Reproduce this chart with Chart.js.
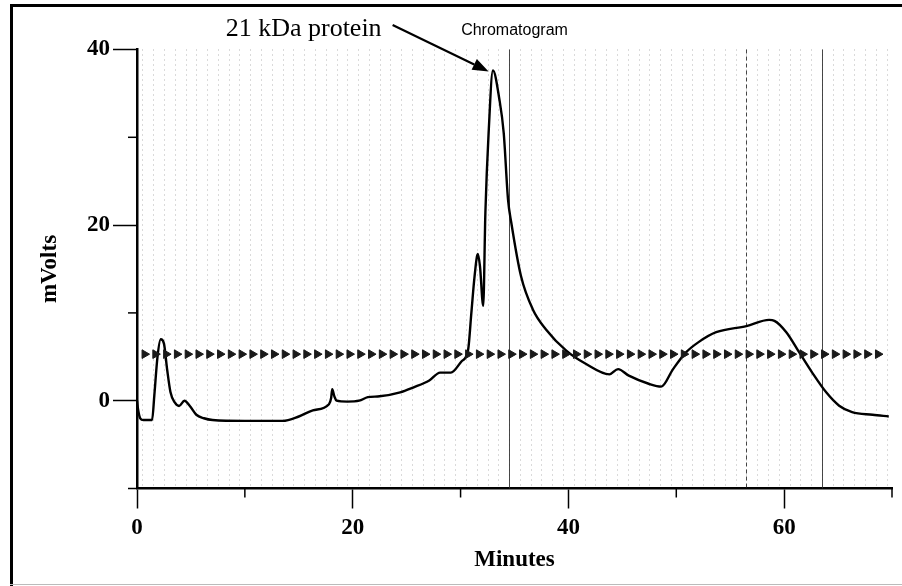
<!DOCTYPE html>
<html>
<head>
<meta charset="utf-8">
<script src="https://cdn.jsdelivr.net/npm/chart.js@4.4.1/dist/chart.umd.min.js"></script>
<style>
  html, body { margin: 0; padding: 0; background: #fff; }
  #wrap { width: 902px; height: 586px; }
</style>
</head>
<body>
<div id="wrap"><canvas id="c" width="902" height="586"></canvas></div>
<script>
// ---- data ----
const traceMinutes = [0.0, 0.1, 0.3, 0.6, 1.4, 1.6, 1.9, 2.2, 2.5, 2.8, 3.1, 3.5, 3.9, 4.4, 4.9, 5.5, 6.2, 7.0, 10.0, 13.5, 15.0, 16.3, 17.8, 18.0, 18.1, 18.3, 18.5, 19.5, 20.6, 21.4, 22.5, 24.4, 25.6, 27.1, 28.1, 29.1, 30.1, 30.7, 31.0, 31.3, 31.6, 31.8, 32.1, 32.3, 32.6, 33.0, 33.6, 34.0, 34.4, 34.7, 35.6, 36.7, 37.9, 39.8, 41.6, 43.8, 44.6, 45.6, 47.5, 48.6, 49.7, 50.9, 52.1, 53.7, 56.5, 58.6, 59.1, 60.2, 61.4, 62.6, 63.9, 65.1, 66.3, 68.2, 69.7];
const traceMilliVolts = [0.0, -1.0, -2.0, -2.2, -2.2, 0.5, 5.0, 7.0, 6.5, 3.5, 1.0, -0.2, -0.6, 0.0, -0.6, -1.6, -2.0, -2.2, -2.3, -2.3, -1.8, -1.1, -0.4, 0.3, 1.3, 0.5, 0.0, -0.1, 0.0, 0.4, 0.5, 0.95, 1.5, 2.3, 3.2, 3.2, 4.5, 5.8, 10.0, 14.2, 16.7, 15.3, 10.8, 21.4, 30.5, 37.6, 34.3, 30.5, 22.9, 20.3, 14.2, 10.4, 8.15, 5.7, 4.2, 3.0, 3.6, 2.85, 1.9, 1.6, 3.6, 5.5, 6.7, 7.8, 8.5, 9.2, 9.1, 7.8, 5.5, 3.2, 0.95, -0.57, -1.3, -1.6, -1.8];
const markerMinutes = [0.7, 1.7, 2.7, 3.7, 4.7, 5.7, 6.7, 7.7, 8.7, 9.7, 10.7, 11.7, 12.7, 13.7, 14.7, 15.7, 16.7, 17.7, 18.7, 19.7, 20.7, 21.7, 22.7, 23.7, 24.7, 25.7, 26.7, 27.7, 28.7, 29.7, 30.7, 31.7, 32.7, 33.7, 34.7, 35.7, 36.7, 37.7, 38.7, 39.7, 40.7, 41.7, 42.7, 43.7, 44.7, 45.7, 46.7, 47.7, 48.7, 49.7, 50.7, 51.7, 52.7, 53.7, 54.7, 55.7, 56.7, 57.7, 58.7, 59.7, 60.7, 61.7, 62.7, 63.7, 64.7, 65.7, 66.7, 67.7, 68.7];
const markerMilliVolts = [5.3, 5.3, 5.3, 5.3, 5.3, 5.3, 5.3, 5.3, 5.3, 5.3, 5.3, 5.3, 5.3, 5.3, 5.3, 5.3, 5.3, 5.3, 5.3, 5.3, 5.3, 5.3, 5.3, 5.3, 5.3, 5.3, 5.3, 5.3, 5.3, 5.3, 5.3, 5.3, 5.3, 5.3, 5.3, 5.3, 5.3, 5.3, 5.3, 5.3, 5.3, 5.3, 5.3, 5.3, 5.3, 5.3, 5.3, 5.3, 5.3, 5.3, 5.3, 5.3, 5.3, 5.3, 5.3, 5.3, 5.3, 5.3, 5.3, 5.3, 5.3, 5.3, 5.3, 5.3, 5.3, 5.3, 5.3, 5.3, 5.3];
const xLabeledTicks = [0, 20, 40, 60];
const yLabeledTicks = [0, 20, 40];
const titleText = 'Chromatogram';
const annotationText = '21 kDa protein';
const annotationFrom = { x: 23.7, y: 42.8 };
const annotationTo = { x: 32.6, y: 37.5 };
const xTitle = 'Minutes';
const yTitle = 'mVolts';

// ---- build ----
const tracePoints = traceMinutes.map((m, i) => ({ x: m, y: traceMilliVolts[i] }));
const markerPoints = markerMinutes.map((m, i) => ({ x: m, y: markerMilliVolts[i] }));

const SERIF = '"Liberation Serif", "Times New Roman", serif';
const SANS = '"Liberation Sans", Arial, sans-serif';

const decor = {
  id: 'decor',
  beforeDatasetsDraw(chart) {
    const { ctx, chartArea: a, scales: { x } } = chart;
    ctx.save();
    ctx.lineWidth = 1;
    ctx.strokeStyle = 'rgba(130,130,130,0.6)';
    ctx.setLineDash([1, 4]);
    for (let v = x.min + 0.5; v < x.max; v += 1) {
      const px = Math.round(x.getPixelForValue(v)) + 0.5;
      ctx.beginPath(); ctx.moveTo(px, a.top); ctx.lineTo(px, a.bottom); ctx.stroke();
    }
    // darker scan lines
    ctx.strokeStyle = 'rgba(40,40,40,0.85)';
    ctx.setLineDash([]);
    [34.5, 63.5].forEach(v => {
      const px = Math.round(x.getPixelForValue(v)) + 0.5;
      ctx.beginPath(); ctx.moveTo(px, a.top); ctx.lineTo(px, a.bottom); ctx.stroke();
    });
    ctx.setLineDash([4, 3]);
    [56.5].forEach(v => {
      const px = Math.round(x.getPixelForValue(v)) + 0.5;
      ctx.beginPath(); ctx.moveTo(px, a.top); ctx.lineTo(px, a.bottom); ctx.stroke();
    });
    ctx.restore();
  },
  afterDraw(chart) {
    const { ctx, chartArea: a, scales: { x, y } } = chart;
    ctx.save();
    // minor ticks
    ctx.strokeStyle = '#000';
    ctx.lineWidth = 1.5;
    x.ticks.forEach(t => {
      if (!xLabeledTicks.includes(t.value)) {
        const px = x.getPixelForValue(t.value);
        ctx.beginPath(); ctx.moveTo(px, a.bottom); ctx.lineTo(px, a.bottom + 9); ctx.stroke();
      }
    });
    y.ticks.forEach(t => {
      if (!yLabeledTicks.includes(t.value)) {
        const py = y.getPixelForValue(t.value);
        ctx.beginPath(); ctx.moveTo(a.left - 9, py); ctx.lineTo(a.left, py); ctx.stroke();
      }
    });
    // frame
    ctx.fillStyle = '#000';
    ctx.fillRect(10, 4, 892, 3);
    ctx.fillRect(10, 4, 3, 582);
    ctx.fillStyle = '#bbb';
    ctx.fillRect(10, 584, 892, 1);
    // title
    ctx.fillStyle = '#000';
    ctx.font = '16px ' + SANS;
    ctx.textAlign = 'center';
    ctx.textBaseline = 'middle';
    ctx.fillText(titleText, (a.left + a.right) / 2, 31);
    // arrow
    const sx = x.getPixelForValue(annotationFrom.x), sy = y.getPixelForValue(annotationFrom.y);
    const ex = x.getPixelForValue(annotationTo.x), ey = y.getPixelForValue(annotationTo.y);
    const ang = Math.atan2(ey - sy, ex - sx);
    const head = 16, hw = 6;
    const bx = ex - head * Math.cos(ang), by = ey - head * Math.sin(ang);
    ctx.strokeStyle = '#000';
    ctx.lineWidth = 2.2;
    ctx.beginPath(); ctx.moveTo(sx, sy); ctx.lineTo(bx, by); ctx.stroke();
    ctx.beginPath();
    ctx.moveTo(ex, ey);
    ctx.lineTo(bx + hw * Math.sin(ang), by - hw * Math.cos(ang));
    ctx.lineTo(bx - hw * Math.sin(ang), by + hw * Math.cos(ang));
    ctx.closePath(); ctx.fill();
    // annotation text
    ctx.font = '26px ' + SERIF;
    ctx.textAlign = 'right';
    ctx.textBaseline = 'alphabetic';
    ctx.fillText(annotationText, sx - 11, sy + 11);
    ctx.restore();
  }
};

new Chart(document.getElementById('c'), {
  type: 'scatter',
  data: {
    datasets: [
      {
        label: 'markers',
        data: markerPoints,
        showLine: false,
        pointStyle: 'triangle',
        rotation: 90,
        pointRadius: 5,
        backgroundColor: '#1a1a1a',
        borderColor: '#1a1a1a',
        borderWidth: 1
      },
      {
        label: 'trace',
        data: tracePoints,
        showLine: true,
        borderColor: '#000',
        borderWidth: 2.4,
        pointRadius: 0,
        cubicInterpolationMode: 'monotone',
        fill: false
      }
    ]
  },
  options: {
    responsive: false,
    devicePixelRatio: 1,
    animation: false,
    layout: { padding: { left: 0, right: 10, top: 49.5, bottom: 0 } },
    plugins: { legend: { display: false }, tooltip: { enabled: false }, title: { display: false } },
    scales: {
      x: {
        type: 'linear',
        min: 0, max: 70,
        afterFit: s => { s.height = 97.5; },
        ticks: {
          stepSize: 10,
          autoSkip: false,
          maxRotation: 0,
          padding: 6,
          color: '#000',
          font: { family: SERIF, size: 23, weight: 'bold' },
          callback: v => xLabeledTicks.includes(v) ? String(v) : ''
        },
        grid: {
          drawOnChartArea: false,
          tickLength: 20,
          tickWidth: 1.5,
          tickColor: c => (c.tick && xLabeledTicks.includes(c.tick.value)) ? '#000' : 'rgba(0,0,0,0)'
        },
        border: { display: true, color: '#000', width: 2.5 },
        title: {
          display: true, text: xTitle, color: '#000',
          font: { family: SERIF, size: 23, weight: 'bold' },
          padding: { top: 0, bottom: 12 }
        }
      },
      y: {
        type: 'linear',
        min: -10, max: 40,
        afterFit: s => { s.width = 137; },
        ticks: {
          stepSize: 10,
          autoSkip: false,
          padding: 3,
          color: '#000',
          font: { family: SERIF, size: 23, weight: 'bold' },
          callback: v => yLabeledTicks.includes(v) ? String(v) : ''
        },
        grid: {
          drawOnChartArea: false,
          tickLength: 24,
          tickWidth: 1.5,
          tickColor: c => (c.tick && yLabeledTicks.includes(c.tick.value)) ? '#000' : 'rgba(0,0,0,0)'
        },
        border: { display: true, color: '#000', width: 2.5 },
        title: {
          display: true, text: yTitle, color: '#000',
          font: { family: SERIF, size: 23, weight: 'bold' },
          padding: { top: 36, bottom: 0 }
        }
      }
    }
  },
  plugins: [decor]
});
</script>
</body>
</html>
